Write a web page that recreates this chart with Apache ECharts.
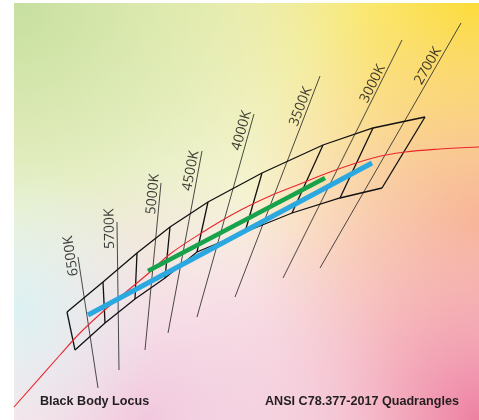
<!DOCTYPE html>
<html>
<head>
<meta charset="utf-8">
<script src="https://cdn.jsdelivr.net/npm/echarts@6/dist/echarts.min.js"></script>
<style>
html,body{margin:0;padding:0;background:#ffffff;}
#chart{width:479px;height:420px;}
</style>
</head>
<body>
<div id="chart"></div>
<script>
// Chart coordinates are chromaticity-style (x, y) units.
const cctLabels = ['6500K', '5700K', '5000K', '4500K', '4000K', '3500K', '3000K', '2700K'];

// Nominal CCT (iso-temperature) lines: lower end and upper end
const isoLow = [
  [0.298, 0.232], [0.319, 0.250], [0.345, 0.270], [0.368, 0.287],
  [0.397, 0.303], [0.435, 0.323], [0.483, 0.342], [0.520, 0.352]
];
const isoHigh = [
  [0.278, 0.363], [0.317, 0.398], [0.361, 0.437], [0.402, 0.469],
  [0.454, 0.506], [0.520, 0.544], [0.602, 0.580], [0.661, 0.597]
];
// Where each CCT label begins along its line
const labelStart = [
  [0.281, 0.345], [0.317, 0.371], [0.358, 0.405], [0.394, 0.428],
  [0.443, 0.468], [0.500, 0.492], [0.570, 0.515], [0.624, 0.533]
];

// ANSI quadrangle corner points: upper boundary and lower boundary
const quadUpper = [
  [0.267, 0.308], [0.303, 0.338], [0.337, 0.367], [0.370, 0.393], [0.408, 0.418],
  [0.462, 0.447], [0.523, 0.475], [0.573, 0.492], [0.625, 0.503]
];
const quadLower = [
  [0.275, 0.270], [0.305, 0.297], [0.335, 0.321], [0.365, 0.342], [0.397, 0.368],
  [0.445, 0.388], [0.492, 0.407], [0.540, 0.422], [0.582, 0.432]
];

// Black body (Planckian) locus
const locus = [
  [0.214, 0.213], [0.260, 0.265], [0.280, 0.287], [0.307, 0.312], [0.350, 0.348],
  [0.370, 0.366], [0.403, 0.388], [0.437, 0.408], [0.470, 0.424], [0.500, 0.436],
  [0.530, 0.448], [0.573, 0.462], [0.605, 0.468], [0.640, 0.471], [0.679, 0.473]
];

// Green and blue tracks
const greenTrack = [[0.348, 0.349], [0.525, 0.442]];
const blueTrack = [[0.288, 0.305], [0.572, 0.457]];

const captions = ['Black Body Locus', 'ANSI C78.377-2017 Quadrangles'];

// ---------------------------------------------------------------
const chart = echarts.init(document.getElementById('chart'), null, {renderer: 'canvas'});

function radial(cx, cy, r, stops) {
  return {type: 'radial', x: cx, y: cy, r: r, global: true,
    colorStops: stops.map(s => ({offset: s[0], color: s[1]}))};
}
function linear(x1, y1, x2, y2, stops) {
  return {type: 'linear', x: x1, y: y1, x2: x2, y2: y2, global: true,
    colorStops: stops.map(s => ({offset: s[0], color: s[1]}))};
}
const bgX = 14, bgY = 3, bgW = 465, bgH = 417;
const bgLayers = [
  '#fdf8f0',
  linear(0, 3, 0, 300, [[0, 'rgba(236,236,160,0.75)'], [0.55, 'rgba(242,242,195,0.35)'], [1, 'rgba(245,245,215,0)']]),
  radial(479, 0, 380, [[0, 'rgba(253,221,45,1)'], [0.35, 'rgba(251,232,110,0.85)'], [0.7, 'rgba(250,240,170,0.4)'], [1, 'rgba(250,245,200,0)']]),
  radial(14, 3, 360, [[0, 'rgba(198,223,160,1)'], [0.5, 'rgba(214,232,172,0.6)'], [1, 'rgba(230,240,195,0)']]),
  radial(479, 220, 240, [[0, 'rgba(250,180,115,0.9)'], [0.5, 'rgba(250,195,140,0.5)'], [1, 'rgba(250,205,160,0)']]),
  radial(479, 420, 320, [[0, 'rgba(238,128,162,1)'], [0.5, 'rgba(243,168,192,0.55)'], [1, 'rgba(245,190,205,0)']]),
  radial(150, 420, 250, [[0, 'rgba(240,195,220,0.9)'], [1, 'rgba(240,200,225,0)']]),
  radial(14, 310, 150, [[0, 'rgba(215,243,245,0.85)'], [1, 'rgba(225,245,245,0)']])
];

const quadSegments = [{coords: quadUpper}, {coords: quadLower}]
  .concat(quadUpper.map((p, i) => ({coords: [p, quadLower[i]]})));
const isoSegments = isoLow.map((p, i) => ({coords: [p, isoHigh[i]]}));

const labelData = cctLabels.map((name, i) => {
  const dx = isoHigh[i][0] - isoLow[i][0];
  const dy = isoHigh[i][1] - isoLow[i][1];
  const ang = Math.atan2(dy, dx) * 180 / Math.PI;
  return {name: name, value: labelStart[i], label: {rotate: ang}};
});

const capStyle = {fontFamily: 'Liberation Sans, Arial, sans-serif', fontWeight: 'bold', fontSize: 12.6, color: '#231f20'};

chart.setOption({
  animation: false,
  backgroundColor: '#ffffff',
  title: [
    {text: captions[0], left: 40, top: 395, padding: 0, textStyle: capStyle},
    {text: captions[1], left: 265, top: 395, padding: 0, textStyle: capStyle}
  ],
  graphic: bgLayers.map(fill => ({
    type: 'rect', silent: true, z: -10,
    shape: {x: bgX, y: bgY, width: bgW, height: bgH},
    style: {fill: fill}
  })),
  grid: {left: 0, right: 0, top: 0, bottom: 0},
  xAxis: {type: 'value', min: 0.2, max: 0.679, show: false},
  yAxis: {type: 'value', min: 0.2, max: 0.62, show: false},
  series: [
    {
      type: 'lines', coordinateSystem: 'cartesian2d', polyline: true, silent: true,
      data: isoSegments,
      lineStyle: {color: '#2a2a2a', width: 0.85, opacity: 1}
    },
    {
      type: 'lines', coordinateSystem: 'cartesian2d', polyline: true, silent: true,
      data: quadSegments,
      lineStyle: {color: '#111111', width: 1.3, opacity: 1}
    },
    {
      type: 'line', data: locus, smooth: 0.35, showSymbol: false, symbol: 'none', silent: true,
      lineStyle: {color: '#e8262c', width: 1.1}
    },
    {
      type: 'line', data: greenTrack, showSymbol: false, symbol: 'none', silent: true,
      lineStyle: {color: '#17a24b', width: 4.5, cap: 'butt'}
    },
    {
      type: 'line', data: blueTrack, showSymbol: false, symbol: 'none', silent: true,
      lineStyle: {color: '#2ca8e0', width: 5, cap: 'butt'}
    },
    {
      type: 'scatter', symbolSize: 0, silent: true,
      data: labelData,
      label: {
        show: true, formatter: '{b}', position: [0, 0], align: 'left', verticalAlign: 'bottom',
        fontFamily: 'Open Sans, sans-serif', fontSize: 14, color: '#0d0d0d'
      }
    }
  ]
});
</script>
</body>
</html>
